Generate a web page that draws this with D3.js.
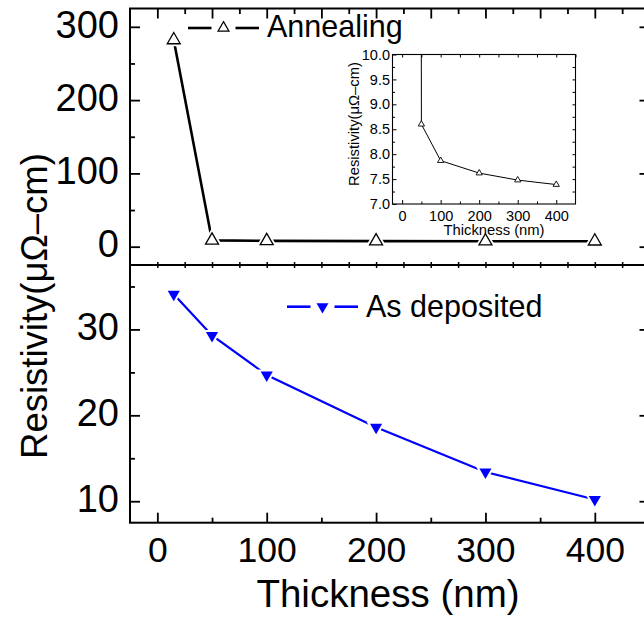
<!DOCTYPE html>
<html>
<head>
<meta charset="utf-8">
<script src="https://cdn.jsdelivr.net/npm/d3@7"></script>
<style>
  html, body { margin: 0; padding: 0; background: #fff; }
  svg { display: block; }
</style>
</head>
<body>
<div class="chart"></div>
<script>
// data
const thickness = [15, 50, 100, 200, 300, 400];
const annealing = [282, 8.6, 7.87, 7.62, 7.48, 7.39];
const asDeposited = [34.1, 29.3, 24.7, 18.6, 13.4, 10.2];

const seriesNames = ["Annealing", "As deposited"];
const xTickValues = [0, 100, 200, 300, 400];
const topYTickValues = [0, 100, 200, 300];
const bottomYTickValues = [10, 20, 30];
const insetXTickValues = [0, 100, 200, 300, 400];
const insetYTickValues = [7.0, 7.5, 8.0, 8.5, 9.0, 9.5, 10.0];

const font = '"Liberation Sans", Arial, Helvetica, sans-serif';
const blue = "#0000ff";

const width = 644, height = 617;
const plotL = 130, plotR = 649.5, plotT = 8.5, plotMid = 265, plotB = 522.7;

const svg = d3.select(".chart")
  .append("svg")
  .attr("width", width)
  .attr("height", height)
  .attr("font-family", font);

const x = d3.scaleLinear().domain([-25, 450]).range([plotL, plotR]);
const yTop = d3.scaleLinear().domain([-25, 325]).range([plotMid, plotT]);
const yBot = d3.scaleLinear().domain([7.5, 37.5]).range([plotB, plotMid]);

const ix = d3.scaleLinear().domain([-25, 450]).range([392.5, 575.5]);
const iy = d3.scaleLinear().domain([7, 10]).range([204, 54.5]);

// generic axis helper: inward ticks, no domain line
const drawAxis = (axis, tx, ty, size, labels, fontSize, pad, sw) => {
  const g = svg.append("g")
    .attr("transform", `translate(${tx},${ty})`)
    .call(axis.tickSize(-size).tickPadding(pad));
  g.select(".domain").remove();
  g.attr("font-family", font).attr("font-size", fontSize);
  g.selectAll("line").attr("stroke", "#000").attr("stroke-width", sw);
  if (!labels) g.selectAll("text").remove();
  return g;
};

// ---- main axes ----
drawAxis(d3.axisBottom(x).tickValues(xTickValues).tickFormat(d3.format("d")), 0, plotB, 10, true, 35.5, 14, 1.8);
drawAxis(d3.axisBottom(x).tickValues([50, 150, 250, 350]), 0, plotB, 5, false, 35.5, 0, 1.8);
drawAxis(d3.axisTop(x).tickValues(d3.range(0, 451, 50)), 0, plotT, 10, false, 38, 0, 1.8);
drawAxis(d3.axisTop(x).tickValues(d3.range(25, 450, 50)), 0, plotT, 5.5, false, 38, 0, 1.8);
// divider between the two panels
drawAxis(d3.axisBottom(x).tickValues(d3.range(0, 450, 25)), 0, plotMid, 3, false, 38, 0, 1.5);
drawAxis(d3.axisTop(x).tickValues(d3.range(0, 450, 25)), 0, plotMid, 3, false, 38, 0, 1.5);

const topLeft = drawAxis(d3.axisLeft(yTop).tickValues(topYTickValues), plotL, 0, 10, true, 38, 11, 1.8);
drawAxis(d3.axisLeft(yTop).tickValues([50, 150, 250]), plotL, 0, 5, false, 38, 0, 1.8);
drawAxis(d3.axisRight(yTop).tickValues(topYTickValues), plotR, 0, 10, false, 38, 0, 1.8);
drawAxis(d3.axisRight(yTop).tickValues([50, 150, 250]), plotR, 0, 5, false, 38, 0, 1.8);

const botLeft = drawAxis(d3.axisLeft(yBot).tickValues(bottomYTickValues), plotL, 0, 10, true, 38, 11, 1.8);
drawAxis(d3.axisLeft(yBot).tickValues([15, 25, 35]), plotL, 0, 5, false, 38, 0, 1.8);
drawAxis(d3.axisRight(yBot).tickValues(bottomYTickValues), plotR, 0, 10, false, 38, 0, 1.8);
drawAxis(d3.axisRight(yBot).tickValues([15, 25, 35]), plotR, 0, 5, false, 38, 0, 1.8);

topLeft.selectAll("text").attr("dy", "0.27em");
botLeft.selectAll("text").attr("dy", "0.27em");

// frames
svg.append("rect")
  .attr("x", plotL).attr("y", plotT)
  .attr("width", plotR - plotL).attr("height", plotB - plotT)
  .attr("fill", "none").attr("stroke", "#000").attr("stroke-width", 2);
svg.append("line")
  .attr("x1", plotL).attr("x2", plotR)
  .attr("y1", plotMid).attr("y2", plotMid)
  .attr("stroke", "#000").attr("stroke-width", 2);

// ---- axis titles ----
svg.append("text")
  .attr("x", 388).attr("y", 607)
  .attr("text-anchor", "middle")
  .attr("font-size", 38.5)
  .text("Thickness (nm)");

svg.append("text")
  .attr("transform", "translate(47,306) rotate(-90)")
  .attr("text-anchor", "middle")
  .attr("font-size", 36.5)
  .text("Resistivity(μΩ–cm)");

// ---- series ----
const triUp = size => d3.symbol().type(d3.symbolTriangle).size(size)();
const pts = (ys) => thickness.map((t, i) => [t, ys[i]]);

const annealPts = pts(annealing);
const depoPts = pts(asDeposited);

svg.append("path")
  .attr("d", d3.line().x(d => x(d[0])).y(d => yTop(d[1]))(annealPts))
  .attr("fill", "none").attr("stroke", "#000").attr("stroke-width", 2.6);

svg.append("path")
  .attr("d", d3.line().x(d => x(d[0])).y(d => yBot(d[1]))(depoPts))
  .attr("fill", "none").attr("stroke", blue).attr("stroke-width", 2.2);

// white halos give the small gap between line and marker
svg.selectAll(".anneal-halo")
  .data(annealPts).enter()
  .append("path")
  .attr("transform", d => `translate(${x(d[0])},${yTop(d[1])})`)
  .attr("d", triUp(73))
  .attr("fill", "#fff").attr("stroke", "#fff").attr("stroke-width", 5);

svg.selectAll(".anneal-mark")
  .data(annealPts).enter()
  .append("path")
  .attr("transform", d => `translate(${x(d[0])},${yTop(d[1])})`)
  .attr("d", triUp(73))
  .attr("fill", "#fff").attr("stroke", "#000").attr("stroke-width", 1.3);

svg.selectAll(".depo-mark")
  .data(depoPts).enter()
  .append("path")
  .attr("transform", d => `translate(${x(d[0])},${yBot(d[1])}) rotate(180)`)
  .attr("d", triUp(64))
  .attr("fill", blue).attr("stroke", "#fff").attr("stroke-width", 4)
  .style("paint-order", "stroke");

// ---- legends ----
const legend = (lx, ly, color, rot, size, filled, name, textY) => {
  const g = svg.append("g");
  g.append("line").attr("x1", lx).attr("x2", lx + 23.5).attr("y1", ly).attr("y2", ly)
    .attr("stroke", color).attr("stroke-width", 2.6);
  g.append("line").attr("x1", lx + 47.5).attr("x2", lx + 71).attr("y1", ly).attr("y2", ly)
    .attr("stroke", color).attr("stroke-width", 2.6);
  g.append("path")
    .attr("transform", `translate(${lx + 35.5},${ly}) rotate(${rot})`)
    .attr("d", triUp(size))
    .attr("fill", filled ? color : "#fff")
    .attr("stroke", color).attr("stroke-width", filled ? 0 : 1.2);
  g.append("text")
    .attr("x", lx + 79).attr("y", textY)
    .attr("font-size", 30.5)
    .text(name);
};
legend(188, 28, "#000", 0, 52, false, seriesNames[0], 36.7);
legend(287, 306.7, blue, 180, 62, true, seriesNames[1], 316.7);

// ---- inset ----
const ixl = ix.range()[0], ixr = ix.range()[1], iyt = iy.range()[1], iyb = iy.range()[0];

svg.append("rect")
  .attr("x", ixl).attr("y", iyt)
  .attr("width", ixr - ixl).attr("height", iyb - iyt)
  .attr("fill", "#fff");

svg.append("clipPath").attr("id", "inset-clip")
  .append("rect")
  .attr("x", ixl).attr("y", iyt)
  .attr("width", ixr - ixl).attr("height", iyb - iyt);

drawAxis(d3.axisBottom(ix).tickValues(insetXTickValues).tickFormat(d3.format("d")), 0, iyb, 4, true, 14.5, 6.3, 1);
drawAxis(d3.axisBottom(ix).tickValues([50, 150, 250, 350]), 0, iyb, 2.5, false, 14.5, 0, 1);
drawAxis(d3.axisTop(ix).tickValues(d3.range(0, 451, 50)), 0, iyt, 3, false, 14.5, 0, 1);
drawAxis(d3.axisLeft(iy).tickValues(insetYTickValues).tickFormat(d3.format(".1f")), ixl, 0, 4, true, 14.5, 2.5, 1);
drawAxis(d3.axisLeft(iy).tickValues(d3.range(7.25, 10, 0.5)), ixl, 0, 2.5, false, 14.5, 0, 1);
drawAxis(d3.axisRight(iy).tickValues(d3.range(7.25, 10, 0.25)), ixr, 0, 3, false, 14.5, 0, 1);

svg.append("rect")
  .attr("x", ixl).attr("y", iyt)
  .attr("width", ixr - ixl).attr("height", iyb - iyt)
  .attr("fill", "none").attr("stroke", "#000").attr("stroke-width", 1.1);

svg.append("path")
  .attr("clip-path", "url(#inset-clip)")
  .attr("d", d3.line().x(d => ix(d[0])).y(d => iy(d[1]))(annealPts))
  .attr("fill", "none").attr("stroke", "#000").attr("stroke-width", 1);

svg.selectAll(".inset-mark")
  .data(annealPts.filter(d => d[1] <= 10)).enter()
  .append("path")
  .attr("transform", d => `translate(${ix(d[0])},${iy(d[1])})`)
  .attr("d", triUp(17))
  .attr("fill", "#fff").attr("stroke", "#000").attr("stroke-width", 0.9);

svg.append("text")
  .attr("x", 494).attr("y", 235)
  .attr("text-anchor", "middle")
  .attr("font-size", 14.8)
  .text("Thickness (nm)");

svg.append("text")
  .attr("transform", "translate(359,124) rotate(-90)")
  .attr("text-anchor", "middle")
  .attr("font-size", 14.8)
  .text("Resistivity(μΩ–cm)");
</script>
</body>
</html>
